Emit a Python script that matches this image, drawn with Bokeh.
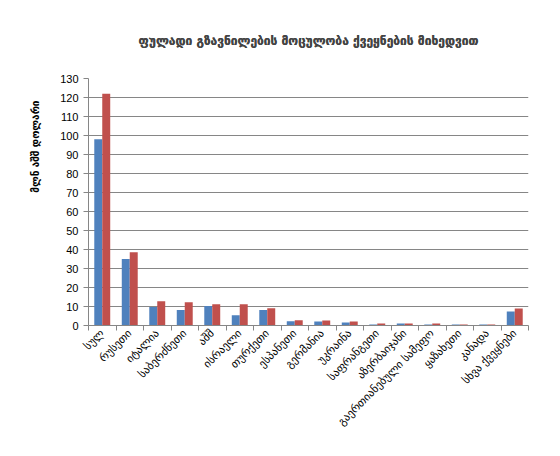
from bokeh.plotting import figure
from bokeh.models import (Range1d, LinearAxis, FixedTicker, ColumnDataSource, Legend, LegendItem,
                          Title)
from bokeh.transform import dodge
from bokeh.embed import file_html
from bokeh.resources import INLINE
import math

title = "ფულადი გზავნილების მოცულობა ქვეყნების მიხედვით"
y_label = "მლნ აშშ დოლარი"
categories = ["სულ", "რუსეთი", "იტალია", "საბერძნეთი", "აშშ", "ისრაელი", "თურქეთი",
              "ესპანეთი", "გერმანია", "უკრაინა", "საფრანგეთი", "აზერბაიჯანი",
              "გაერთიანებული სამეფო", "ყაზახეთი", "კანადა", "სხვა ქვეყნები"]
series_names = ["ნოემბერი, 2016", "ნოემბერი, 2017"]
v2016 = [98.0, 35.0, 9.8, 8.1, 10.2, 5.4, 8.1, 2.3, 2.1, 1.6, 0.5, 1.05, 0.5, 0.5, 0.5, 7.4]
v2017 = [122.0, 38.6, 12.8, 12.3, 11.2, 11.2, 9.1, 2.8, 2.6, 2.1, 1.05, 1.05, 1.05, 0.5, 0.5, 8.9]
y_ticks = list(range(0, 131, 10))

GEO = "DejaVu Sans"
NUM = "Liberation Sans"

n = len(categories)
centers = [i + 0.5 for i in range(n)]
bounds = list(range(n + 1))
src = ColumnDataSource(dict(x=centers, a=v2016, b=v2017))

p = figure(frame_width=440, frame_height=247, x_range=Range1d(0, n),
           y_range=Range1d(0, 130), output_backend="svg", toolbar_location=None,
           x_axis_location=None, min_border_left=88, min_border_right=16,
           min_border_top=78, min_border_bottom=0)
p.outline_line_color = None
p.xgrid.grid_line_color = None
p.ygrid.grid_line_color = "#868686"
p.ygrid.grid_line_width = 1
p.ygrid.ticker = FixedTicker(ticks=y_ticks)

# title, pushed up by an invisible spacer axis between it and the frame
p.title.text = title
p.title.text_font = GEO
p.title.text_font_size = "12px"
p.title.text_font_style = "bold"
p.title.align = "center"
p.title.standoff = 10
spacer = LinearAxis(ticker=FixedTicker(ticks=[]), axis_line_color=None,
                    major_tick_line_color=None, minor_tick_line_color=None,
                    major_tick_out=55, major_tick_in=0, major_label_standoff=0)
p.above = [spacer, p.title]

r1 = p.vbar(x=dodge("x", -0.145), top="a", width=0.29, source=src,
            fill_color="#4F81BD", line_color=None)
r2 = p.vbar(x=dodge("x", 0.145), top="b", width=0.29, source=src,
            fill_color="#C0504D", line_color=None)

yax = p.yaxis[0]
yax.ticker = FixedTicker(ticks=y_ticks)
yax.axis_line_color = "#868686"
yax.major_tick_line_color = "#868686"
yax.major_tick_out = 5
yax.major_tick_in = 0
yax.minor_tick_line_color = None
yax.major_label_text_font = NUM
yax.major_label_text_font_size = "11px"
yax.major_label_text_color = "black"

ytitle = Title(text=y_label, text_font=GEO, text_font_size="10px", text_font_style="bold",
               text_color="black", align="right", offset=22, standoff=34)
p.left = [yax, ytitle]

bax = LinearAxis(ticker=FixedTicker(ticks=bounds),
                 major_label_overrides={b: "" for b in bounds})
bax.axis_line_color = "#868686"
bax.major_tick_line_color = "#868686"
bax.major_tick_out = 5
bax.major_tick_in = 0
bax.minor_tick_line_color = None
bax.major_label_standoff = 0
bax.major_label_text_font_size = "1px"
bax.axis_label_standoff = 0

cax = LinearAxis(ticker=FixedTicker(ticks=centers),
                 major_label_overrides={c: lab for c, lab in zip(centers, categories)})
cax.axis_line_color = None
cax.major_tick_line_color = None
cax.minor_tick_line_color = None
cax.major_tick_out = 0
cax.major_tick_in = 0
cax.major_label_orientation = math.pi / 4
cax.major_label_text_font = GEO
cax.major_label_text_font_size = "11px"
cax.major_label_text_color = "black"
cax.major_label_standoff = 1
cax.axis_label_standoff = 0

legend = Legend(items=[LegendItem(label=series_names[0], renderers=[r1]),
                       LegendItem(label=series_names[1], renderers=[r2])],
                orientation="horizontal", location=(-108, 0))
legend.label_text_font = GEO
legend.label_text_font_size = "10px"
legend.label_height = 12
legend.glyph_width = 7
legend.glyph_height = 7
legend.spacing = 20
legend.label_standoff = 3
legend.border_line_color = None
legend.background_fill_alpha = 0
legend.margin = 0
legend.padding = 0

p.below = [bax, cax, legend]

open("out.html", "w").write(file_html(p, INLINE))
